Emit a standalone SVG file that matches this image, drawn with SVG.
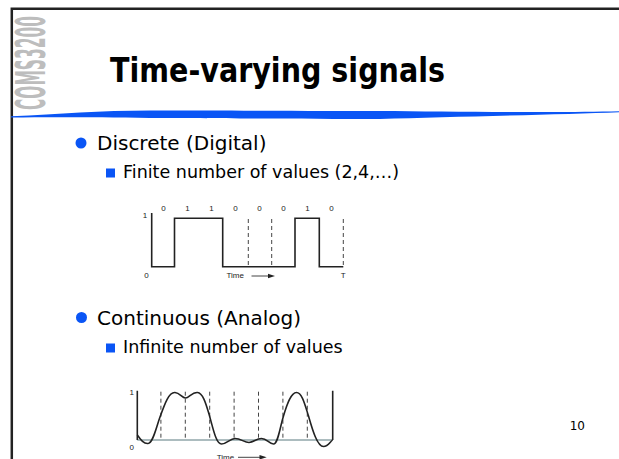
<svg xmlns="http://www.w3.org/2000/svg" width="619" height="459" viewBox="0 0 619 459">
<style>
.t{font-family:"DejaVu Sans","Verdana",sans-serif;fill:#000}
.sm{font-family:"Liberation Sans",Arial,sans-serif;font-size:8px;fill:#222}
.sig{fill:none;stroke:#222;stroke-width:1.6}
.dash{fill:none;stroke:#444;stroke-width:1;stroke-dasharray:4,3}
.bul{fill:#0a55f5}
</style>
<rect x="0" y="0" width="619" height="459" fill="#fff"/>
<g id="frame">
<path d="M11.8,459 V8.8 H619" fill="none" stroke="#222" stroke-width="2.5"/>
</g>
<g id="logo">
<text transform="translate(45,110) rotate(-90)" font-family="'DejaVu Sans Condensed','DejaVu Sans',sans-serif" font-weight="bold" font-size="40" fill="#bdbdbd" textLength="94" lengthAdjust="spacingAndGlyphs">COMS3200</text>
</g>
<g id="title">
<text class="t" x="110" y="82" font-size="33" font-weight="bold" textLength="335" lengthAdjust="spacingAndGlyphs">Time-varying signals</text>
<path d="M11,116.3 C60,114 100,110.5 150,110.5 C250,110.5 330,111 380,111 C450,111.5 560,113 619,111.3 L619,112.2 C560,114.5 450,117 380,119 C300,119 200,118 150,118 C100,117.5 60,117 11,117.6 Z" fill="#0a55f5"/>
</g>
<g id="bullet-discrete">
<circle class="bul" cx="81" cy="143" r="5.5"/>
<text class="t" x="97" y="150" font-size="20">Discrete (Digital)</text>
</g>
<g id="bullet-finite">
<rect class="bul" x="106" y="168.5" width="9" height="9"/>
<text class="t" x="123" y="178" font-size="17.5">Finite number of values (2,4,…)</text>
</g>
<g id="digital-chart">
<text class="sm" x="145" y="218" text-anchor="middle">1</text>
<text class="sm" x="163.5" y="211" text-anchor="middle">0</text>
<text class="sm" x="187.5" y="211" text-anchor="middle">1</text>
<text class="sm" x="211.5" y="211" text-anchor="middle">1</text>
<text class="sm" x="235.5" y="211" text-anchor="middle">0</text>
<text class="sm" x="259.5" y="211" text-anchor="middle">0</text>
<text class="sm" x="283.5" y="211" text-anchor="middle">0</text>
<text class="sm" x="307.5" y="211" text-anchor="middle">1</text>
<text class="sm" x="331.5" y="211" text-anchor="middle">0</text>
<path class="sig" d="M151.7,213 V266.7 H174.5 V218.3 H222.7 V266.7 H295 V218.3 H319.3 V266.7 H343.3"/>
<path class="dash" d="M248.3,219 V266 M271.7,219 V266 M343.3,219 V266"/>
<text class="sm" x="146.5" y="278" text-anchor="middle">0</text>
<text class="sm" x="226.5" y="278">Time</text>
<path d="M251.5,276 H270" stroke="#444" stroke-width="1"/>
<path d="M275,276 L268,273.8 L268,278.2 Z" fill="#222"/>
<text class="sm" x="343.3" y="278" text-anchor="middle">T</text>
</g>
<g id="bullet-continuous">
<circle class="bul" cx="81.5" cy="317.5" r="5.5"/>
<text class="t" x="97" y="325" font-size="20">Continuous (Analog)</text>
</g>
<g id="bullet-infinite">
<rect class="bul" x="106" y="343.5" width="9" height="9"/>
<text class="t" x="123" y="353" font-size="17.5">Infinite number of values</text>
</g>
<g id="analog-chart">
<text class="sm" x="131.7" y="395" text-anchor="middle">1</text>
<text class="sm" x="131.7" y="450" text-anchor="middle">0</text>
<path d="M137.3,440 H332.7" stroke="#5a7a80" stroke-width="1.2" fill="none"/>
<path class="sig" d="M137.3,390.7 V440 M332.7,390.7 V440" stroke-width="1.4"/>
<path class="dash" d="M160.9,391.7 V440 M185.3,391.7 V440 M209.7,391.7 V440 M234.1,391.7 V440 M258.5,391.7 V440 M282.9,391.7 V440 M307.3,391.7 V440"/>
<path class="sig" d="M137.3,435 C141,440 144,444 148,443.5 C153,443 156,428 160,417 C165,403 169,392 175,392.5 C180,393 182,398 185.5,398 C189,398 192,392 197.5,392.5 C203,393 206,404 209,414 C213,428 216,444 221.5,444 C227,444 230,438.5 235,438.5 C241,438.5 244,442.5 249,442.5 C254,442.5 256,438.5 261.5,438.5 C267,438.5 269,444 273.5,444 C278,444 280,427 283.5,416 C287,404 291,392.5 296.5,392.5 C302,392.5 305,405 308.5,416 C312,428 317,446.5 323.5,446.5 C328,446.5 330,442 332.5,440"/>
<text class="sm" x="216.7" y="460">Time</text>
<path d="M238,457.3 H261" stroke="#444" stroke-width="1"/>
<path d="M266.7,457.3 L259.5,455.1 L259.5,459.5 Z" fill="#222"/>
</g>
<g id="page-number">
<text x="585" y="430" text-anchor="end" font-family="'DejaVu Sans',sans-serif" font-size="12" fill="#000">10</text>
</g>
</svg>
